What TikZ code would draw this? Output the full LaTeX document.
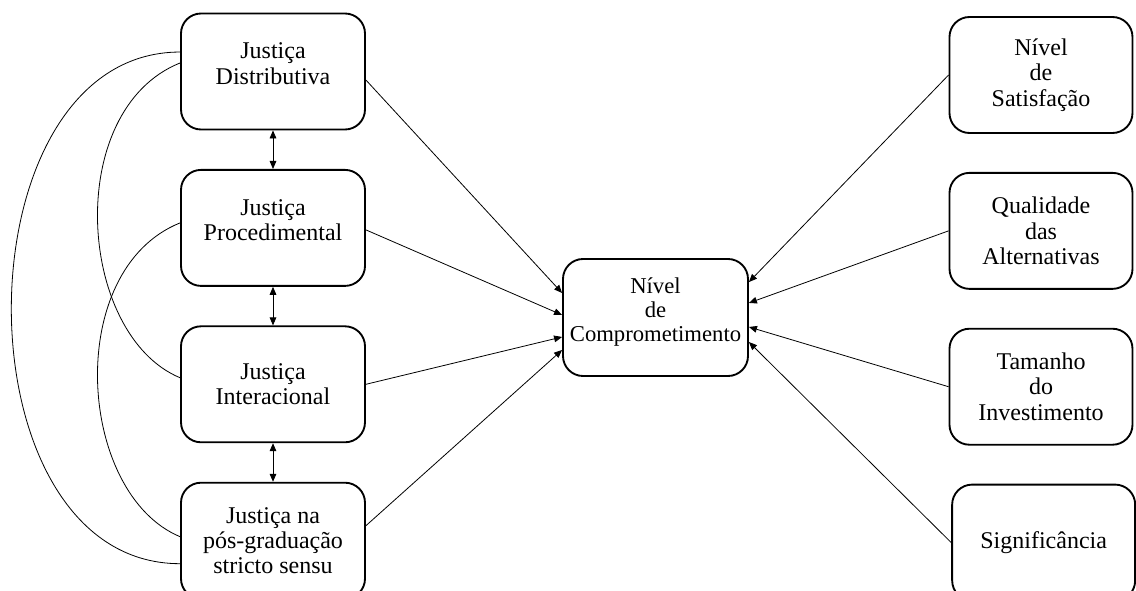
\documentclass[tikz,border=0pt]{standalone}
\usepackage{fontspec}
\setmainfont{Liberation Serif}
\usetikzlibrary{arrows.meta, positioning}

\begin{document}
\begin{tikzpicture}[
    x=0.75pt, y=0.75pt,
    node distance=28.9pt,
    every node/.style={align=center, font=\fontsize{18}{19}\selectfont},
    box/.style={draw, line width=1.4pt, rounded corners=15pt, fill=white, minimum width=138pt, minimum height=87pt, inner sep=2pt},
    upper/.style={text depth=12pt},
    arrow/.style={-{Triangle[length=6pt, width=5pt]}, line width=0.6pt},
    both/.style={{Triangle[length=6pt, width=5pt]}-{Triangle[length=6pt, width=5pt]}, line width=0.6pt},
    link/.style={line width=0.6pt}
]
    \useasboundingbox (0,0) rectangle (1136,590);

    % Nodes
    \node[box, upper] (dist) at (273,518.5) {Justiça\\Distributiva};
    \node[box, upper, below=of dist] (proc) {Justiça\\Procedimental};
    \node[box, below=of proc] (inter) {Justiça\\Interacional};
    \node[box, below=of inter] (posgrad) {Justiça na\\pós-graduação\\stricto sensu};

    \node[box, upper, minimum width=138.75pt, minimum height=87.75pt, font=\fontsize{17}{18}\selectfont] (comp) at (655.5,272.5) {Nível\\de\\Comprometimento};

    \node[box, minimum width=137.25pt] (satisf) at (1041,515) {Nível\\de\\Satisfação};
    \node[box, minimum width=137.25pt, below=28.5pt of satisf] (qualid) {Qualidade\\das\\Alternativas};
    \node[box, minimum width=137.25pt, below=28.5pt of qualid] (tamanho) {Tamanho\\do\\Investimento};
    \node[box, minimum width=137.25pt, below=28.5pt of tamanho, xshift=2pt] (signif) {Significância};

    % Arrows
    \draw[both] (dist) -- (proc);
    \draw[both] (proc) -- (inter);
    \draw[both] (inter) -- (posgrad);

    \draw[arrow] ([yshift=-6.4pt]dist.east) -- ([yshift=18.4pt]comp.west);
    \draw[arrow] ([yshift=-1.5pt]proc.east) -- ([yshift=1.9pt]comp.west);
    \draw[arrow] (inter.east) -- ([yshift=-14.6pt]comp.west);
    \draw[arrow] ([yshift=11.25pt]posgrad.east) -- ([yshift=-24.4pt]comp.west);

    \draw[arrow] (satisf.west) -- ([yshift=26.6pt]comp.east);
    \draw[arrow] (qualid.west) -- ([yshift=10.9pt]comp.east);
    \draw[arrow] (tamanho.west) -- ([yshift=-7.1pt]comp.east);
    \draw[arrow] (signif.west) -- ([yshift=-18.4pt]comp.east);

    % Correlations
    \draw[link] ([yshift=14.6pt]dist.west) .. controls +(-168pt,0pt) and +(-169.5pt,0pt) .. ([yshift=-17.25pt]posgrad.west);
    \draw[link] ([yshift=6.4pt]dist.west) .. controls +(-87.75pt,-35.25pt) and +(-77.25pt,32.25pt) .. ([yshift=4.9pt]inter.west);
    \draw[link] ([yshift=3.75pt]proc.west) .. controls +(-87.75pt,-35.25pt) and +(-77.25pt,32.25pt) .. ([yshift=3pt]posgrad.west);
\end{tikzpicture}
\end{document}
